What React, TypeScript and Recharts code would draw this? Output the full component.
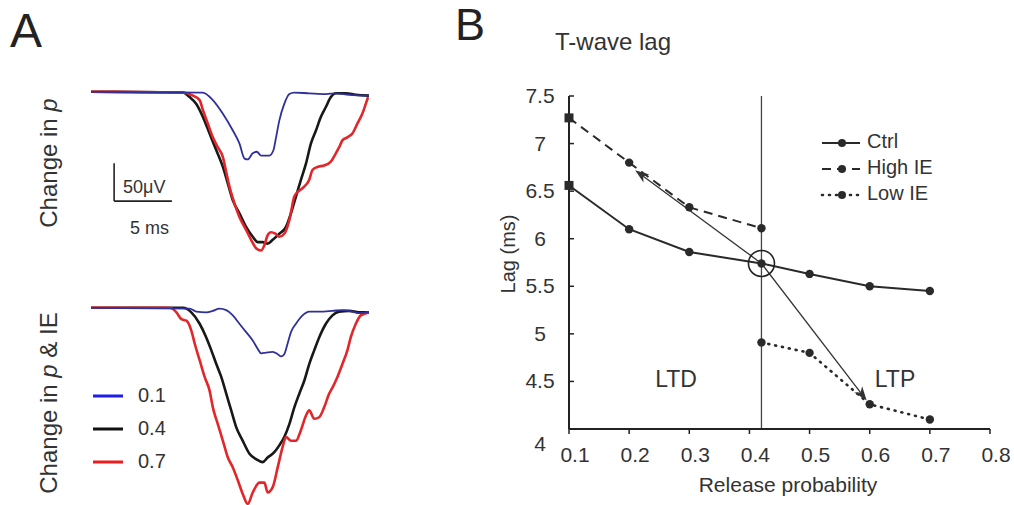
import { LineChart, Line, XAxis, YAxis, ReferenceLine, ReferenceDot, Legend } from 'recharts'

const FONT = '"Liberation Sans", Arial, Helvetica, sans-serif'

// Panel A traces, [time (ms), field potential (µV)]
const topBlue: [number, number][] = [
	[0, 0], [9.68, -1], [10.54, -11], [11.41, -29], [12.27, -51], [12.84, -68], [13.28, -88],
	[13.56, -89], [13.99, -81], [14.34, -79], [14.72, -84], [15.43, -84], [15.78, -77], [16.01, -60],
	[16.29, -38], [16.72, -16], [17.16, -3], [17.59, -1], [18.88, -2], [20.32, -3], [21.18, -2],
	[22.33, -4], [24.05, -5],
]
const topBlack: [number, number][] = [
	[0, 0], [7.96, -1], [8.53, -7], [9.11, -16], [9.68, -33], [10.26, -55], [10.84, -77],
	[11.41, -99], [11.84, -121], [12.27, -143], [12.84, -160], [13.42, -178], [13.99, -191],
	[14.42, -198], [14.85, -198], [15.28, -200], [15.72, -195], [16.29, -187], [16.87, -178],
	[17.3, -160], [17.73, -138], [18.16, -116], [18.59, -95], [19.03, -68], [19.46, -51],
	[19.89, -33], [20.32, -20], [20.75, -7], [21.18, -2], [22.04, -2], [22.91, -4], [24.05, -5],
]
const topRed: [number, number][] = [
	[0, 0], [7.96, -1], [8.82, -5], [9.4, -11], [9.68, -24], [10.11, -42], [10.54, -60],
	[10.97, -73], [11.41, -86], [11.66, -103], [11.98, -125], [12.41, -147], [12.84, -165],
	[13.42, -182], [13.85, -195], [14.28, -206], [14.72, -209], [15.0, -202], [15.28, -189],
	[15.58, -185], [15.95, -187], [16.29, -191], [16.72, -187], [17.16, -169], [17.59, -138],
	[17.87, -132], [18.3, -127], [18.88, -116], [19.16, -103], [19.59, -99], [20.17, -97],
	[20.75, -92], [21.18, -81], [21.47, -73], [21.75, -64], [22.18, -60], [22.61, -55],
	[23.04, -42], [23.47, -29], [23.77, -16], [23.97, -7],
]
const bottomBlue: [number, number][] = [
	[0, 0], [8.53, -1], [9.11, -5], [9.97, -6], [10.54, -4], [11.12, -1], [11.7, -3], [12.27, -10],
	[12.84, -21], [13.42, -32], [13.99, -43], [14.42, -54], [14.72, -60], [15.15, -59], [15.72, -58],
	[16.15, -61], [16.44, -64], [16.72, -61], [17.01, -47], [17.3, -32], [17.73, -21], [18.3, -10],
	[18.88, -5], [19.74, -5], [20.89, -4], [21.75, -3], [22.61, -5], [23.19, -7], [24.05, -6],
]
const bottomBlack: [number, number][] = [
	[0, 0], [7.96, 0], [8.68, -6], [9.4, -21], [9.97, -39], [10.41, -56], [10.84, -74],
	[11.27, -91], [11.7, -113], [12.13, -135], [12.56, -157], [13.13, -175], [13.71, -192],
	[14.28, -199], [14.85, -203], [15.28, -197], [15.86, -190], [16.29, -181], [16.72, -170],
	[17.16, -153], [17.59, -131], [18.02, -113], [18.45, -96], [18.88, -74], [19.31, -56],
	[19.74, -39], [20.32, -21], [20.89, -10], [21.47, -5], [22.33, -4], [23.19, -6], [24.05, -6],
]
const bottomRed: [number, number][] = [
	[0, 0], [6.81, 0], [7.39, -6], [7.82, -15], [8.25, -17], [8.68, -30], [8.97, -47], [9.4, -69],
	[9.83, -91], [10.26, -109], [10.54, -131], [10.97, -153], [11.41, -175], [11.84, -197],
	[12.27, -210], [12.7, -227], [13.13, -245], [13.56, -258], [13.99, -243], [14.57, -230],
	[15.0, -230], [15.28, -243], [15.72, -236], [16.15, -210], [16.58, -183], [16.87, -170],
	[17.3, -175], [17.73, -175], [18.16, -161], [18.59, -142], [18.88, -135], [19.31, -146],
	[19.74, -144], [20.17, -131], [20.6, -113], [20.89, -105], [21.32, -91], [21.75, -74],
	[22.18, -56], [22.47, -39], [22.91, -21], [23.34, -10], [24.05, -6],
]
const pLegendLabels = ['0.1', '0.4', '0.7']

// Panel B: T-wave lag vs release probability
const ctrlP = [0.1, 0.2, 0.3, 0.42, 0.5, 0.6, 0.7]
const ctrlLag = [6.56, 6.1, 5.86, 5.74, 5.63, 5.5, 5.45]
const highIeP = [0.1, 0.2, 0.3, 0.42]
const highIeLag = [7.27, 6.8, 6.33, 6.11]
const lowIeP = [0.42, 0.5, 0.6, 0.7]
const lowIeLag = [4.91, 4.8, 4.26, 4.1]
const pTicks = [0.1, 0.2, 0.3, 0.4, 0.5, 0.6, 0.7, 0.8]
const lagTicks = [4, 4.5, 5, 5.5, 6, 6.5, 7, 7.5]
const thresholdP = 0.42
const thresholdLag = 5.74
const arrowToHigh = { p: 0.21, lag: 6.72 }
const arrowToLow = { p: 0.595, lag: 4.3 }

const toTrace = (pts: [number, number][]) => pts.map(([t, v]) => ({ t, v }))
const toLag = (ps: number[], lags: number[]) => ps.map((p, i) => ({ p, lag: lags[i] }))

const traceColors = { blue: '#30309a', black: '#181818', red: '#e3262a' }
const legendColors = ['#1c1cf0', '#111', '#ee1c1c']

const lagSeries = [
	{ name: 'Ctrl', data: toLag(ctrlP, ctrlLag), dash: undefined as string | undefined, width: 2 },
	{ name: 'High IE', data: toLag(highIeP, highIeLag), dash: '9 6', width: 2 },
	{ name: 'Low IE', data: toLag(lowIeP, lowIeLag), dash: '1 6', width: 2.6 },
]

const LagDot = (props: any) => {
	const { cx, cy, payload } = props
	if (cx == null || cy == null) return <g />
	if (payload.p === 0.1) return <rect x={cx - 4.5} y={cy - 4.5} width={9} height={9} fill="#2a2a2a" />
	return <circle cx={cx} cy={cy} r={4.2} fill="#2a2a2a" />
}

const Arrow = (props: any) => {
	const { x1, y1, x2, y2 } = props
	const len = Math.hypot(x2 - x1, y2 - y1) || 1
	const ux = (x2 - x1) / len
	const uy = (y2 - y1) / len
	const bx = x2 - ux * 14
	const by = y2 - uy * 14
	const pts = [
		[x2, y2],
		[bx - uy * 5, by + ux * 5],
		[bx + ux * 4, by + uy * 4],
		[bx + uy * 5, by - ux * 5],
	]
	return (
		<g>
			<line x1={x1} y1={y1} x2={bx + ux * 4} y2={by + uy * 4} stroke="#333" strokeWidth={1.3} />
			<polygon points={pts.map((q) => q.join(',')).join(' ')} fill="#333" />
		</g>
	)
}

const YTick = (props: any) => {
	const { y, payload } = props
	return (
		<g>
			<line x1={129} x2={134} y1={y} y2={y} stroke="#222" strokeWidth={1.5} />
			<text x={100} y={y + 7 + (payload.value === 4 ? 15 : 0)} textAnchor="middle" fontSize={21} fill="#333" fontFamily={FONT}>
				{String(payload.value)}
			</text>
		</g>
	)
}

const XTick = (props: any) => {
	const { x, payload } = props
	return (
		<g>
			<line x1={x} x2={x} y1={429} y2={434} stroke="#222" strokeWidth={1.5} />
			<text x={x + 6} y={462} textAnchor="middle" fontSize={21} fill="#333" fontFamily={FONT}>
				{String(payload.value)}
			</text>
		</g>
	)
}

const renderLagLegend = () => (
	<svg width={160} height={80} style={{ overflow: 'visible' }}>
		{lagSeries.map((s, i) => {
			const y = 15 + i * 26
			return (
				<g key={s.name}>
					<line x1={0} x2={38} y1={y} y2={y} stroke="#2a2a2a" strokeWidth={s.width} strokeDasharray={s.dash} strokeLinecap={s.dash === '1 6' ? 'round' : 'butt'} />
					<circle cx={20} cy={y} r={4} fill="#2a2a2a" />
					<text x={45} y={y + 5} fontSize={20} fill="#333" fontFamily={FONT}>{s.name}</text>
				</g>
			)
		})}
	</svg>
)

const renderPLegend = () => (
	<svg width={90} height={100}>
		{pLegendLabels.map((label, i) => {
			const y = 12 + i * 33
			return (
				<g key={label}>
					<line x1={0} x2={30} y1={y} y2={y} stroke={legendColors[i]} strokeWidth={3} />
					<text x={45} y={y + 6} fontSize={20} fill="#333" fontFamily={FONT}>{label}</text>
				</g>
			)
		})}
	</svg>
)

function TracePanel({ blue, black, red, domain, width, height, legend, scaleBar }: any) {
	return (
		<LineChart width={width} height={height} margin={{ top: 0, right: 0, bottom: 0, left: 0 }}>
			<XAxis type="number" dataKey="t" domain={[0, 24]} hide />
			<YAxis type="number" dataKey="v" domain={domain} hide />
			{scaleBar && (
				<ReferenceLine segment={[{ x: 2, y: -144 }, { x: 7, y: -144 }]} stroke="#222" strokeWidth={1.6} />
			)}
			{scaleBar && (
				<ReferenceLine segment={[{ x: 2, y: -144 }, { x: 2, y: -94 }]} stroke="#222" strokeWidth={1.6} />
			)}
			<Line data={toTrace(black)} dataKey="v" type="monotone" stroke={traceColors.black} strokeWidth={2.6} dot={false} isAnimationActive={false} />
			<Line data={toTrace(red)} dataKey="v" type="monotone" stroke={traceColors.red} strokeWidth={2.6} dot={false} isAnimationActive={false} />
			<Line data={toTrace(blue)} dataKey="v" type="monotone" stroke={traceColors.blue} strokeWidth={1.8} dot={false} isAnimationActive={false} />
			{legend && (
				<Legend layout="vertical" align="center" verticalAlign="middle" content={renderPLegend} wrapperStyle={{ left: 2, top: 80, width: 90, height: 100 }} />
			)}
		</LineChart>
	)
}

export default function App() {
	return (
		<div style={{ position: 'absolute', left: 0, top: 0, width: 1014, height: 505, overflow: 'hidden', background: '#fff', fontFamily: FONT }}>
			<div style={{ position: 'absolute', left: 91, top: 88 }}>
				<TracePanel blue={topBlue} black={topBlack} red={topRed} domain={[-215, 5]} width={278} height={167} scaleBar />
			</div>
			<div style={{ position: 'absolute', left: 91, top: 303.5 }}>
				<TracePanel blue={bottomBlue} black={bottomBlack} red={bottomRed} domain={[-270, 5]} width={278} height={209} legend />
			</div>

			<div style={{ position: 'absolute', left: 440, top: 0 }}>
				<LineChart width={574} height={505} margin={{ top: 96, right: 24, bottom: 28, left: 69 }}>
					<XAxis type="number" dataKey="p" domain={[0.1, 0.8]} ticks={pTicks} interval={0} height={48} axisLine={{ stroke: '#222', strokeWidth: 2 }} tickLine={false} tick={XTick} />
					<YAxis type="number" domain={[4, 7.5]} ticks={lagTicks} interval={0} width={60} axisLine={{ stroke: '#222', strokeWidth: 2 }} tickLine={false} tick={YTick} />
					<ReferenceLine x={thresholdP} stroke="#444" strokeWidth={1.3} />
					{lagSeries.map((s) => (
						<Line
							key={s.name}
							name={s.name}
							data={s.data}
							dataKey="lag"
							type="linear"
							stroke="#2a2a2a"
							strokeWidth={s.width}
							strokeDasharray={s.dash}
							strokeLinecap={s.dash === '1 6' ? 'round' : 'butt'}
							dot={LagDot}
							activeDot={false}
							isAnimationActive={false}
						/>
					))}
					<ReferenceLine segment={[{ x: thresholdP, y: thresholdLag }, { x: arrowToHigh.p, y: arrowToHigh.lag }]} shape={Arrow} />
					<ReferenceLine segment={[{ x: thresholdP, y: thresholdLag }, { x: arrowToLow.p, y: arrowToLow.lag }]} shape={Arrow} />
					<ReferenceDot x={thresholdP} y={thresholdLag} r={13} fill="none" stroke="#222" strokeWidth={1.6} />
					<Legend layout="vertical" align="center" verticalAlign="middle" content={renderLagLegend} wrapperStyle={{ left: 382, top: 128, width: 160, height: 80 }} />
				</LineChart>
			</div>

			<svg width={1014} height={505} style={{ position: 'absolute', left: 0, top: 0, pointerEvents: 'none' }} fontFamily={FONT}>
				<text x={10} y={47} fontSize={48} fill="#222">A</text>
				<text x={455} y={40} fontSize={45} fill="#222">B</text>
				<text x={555} y={50} fontSize={24} fill="#333">T-wave lag</text>
				<text x={57} y={163} fontSize={24} fill="#333" textAnchor="middle" transform="rotate(-90 57 163)">
					Change in <tspan fontStyle="italic">p</tspan>
				</text>
				<text x={57} y={403} fontSize={24} fill="#333" textAnchor="middle" transform="rotate(-90 57 403)">
					Change in <tspan fontStyle="italic">p</tspan> &amp; IE
				</text>
				<text x={123} y={193} fontSize={18} fill="#333">50μV</text>
				<text x={130} y={234} fontSize={18} fill="#333">5 ms</text>
				<text x={515} y={254} fontSize={20} fill="#333" textAnchor="middle" transform="rotate(-90 515 254)">Lag (ms)</text>
				<text x={788} y={492} fontSize={21} fill="#333" textAnchor="middle">Release probability</text>
				<text x={676} y={387} fontSize={23} fill="#333" textAnchor="middle">LTD</text>
				<text x={895} y={387} fontSize={23} fill="#333" textAnchor="middle">LTP</text>
			</svg>
		</div>
	)
}
